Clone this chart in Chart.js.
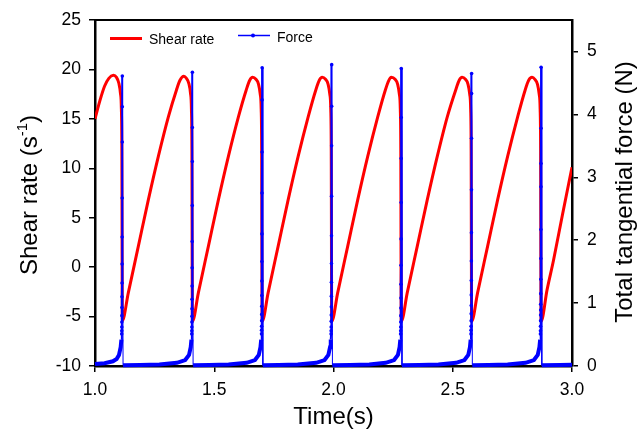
<!DOCTYPE html>
<html>
<head>
<meta charset="utf-8">
<title>Shear rate and tangential force</title>
<script src="https://cdn.jsdelivr.net/npm/chart.js@4.4.0/dist/chart.umd.min.js"></script>
<style>
    html, body { margin: 0; padding: 0; background: #fff; }
    #wrap { width: 639px; height: 432px; }
</style>
</head>
<body>
<div id="wrap"><canvas id="chart"></canvas></div>
<script>
"use strict";

// shear rate [time (s), shear rate (1/s)]
const shearPoints = [
    [1.000, 15.0], [1.020, 16.8], [1.040, 18.3], [1.058, 19.1], [1.077, 19.4], [1.090, 19.2], [1.100, 18.6],
    [1.1066, 17.6], [1.1106, 16.0], [1.1126, 12.0], [1.1146, -5.4],
    [1.1396, -2.6], [1.1816, 2.1], [1.2236, 6.8], [1.2656, 11.2], [1.3076, 15.2], [1.3413, 17.9], [1.3563, 18.9],
    [1.3723, 19.3], [1.3833, 19.1], [1.3933, 18.6], [1.4003, 17.6], [1.4043, 16.0], [1.4063, 12.0], [1.4083, -5.5],
    [1.4333, -2.6], [1.4753, 2.1], [1.5173, 6.8], [1.5593, 11.2], [1.6013, 15.2], [1.6338, 17.9], [1.6488, 18.9],
    [1.6608, 19.2], [1.6748, 19.0], [1.6858, 18.5], [1.6928, 17.5], [1.6968, 16.0], [1.6988, 12.0], [1.7008, -5.5],
    [1.7258, -2.6], [1.7678, 2.1], [1.8098, 6.8], [1.8518, 11.2], [1.8938, 15.2], [1.9255, 17.9], [1.9405, 18.9],
    [1.9525, 19.2], [1.9665, 19.0], [1.9775, 18.5], [1.9845, 17.5], [1.9885, 16.0], [1.9905, 12.0], [1.9925, -5.5],
    [2.0175, -2.6], [2.0595, 2.1], [2.1015, 6.8], [2.1435, 11.2], [2.1855, 15.2], [2.2171, 17.9], [2.2321, 18.9],
    [2.2421, 19.2], [2.2581, 19.0], [2.2691, 18.5], [2.2761, 17.5], [2.2801, 16.0], [2.2821, 12.0], [2.2841, -5.5],
    [2.3091, -2.6], [2.3511, 2.1], [2.3931, 6.8], [2.4351, 11.2], [2.4771, 15.2], [2.5121, 17.9], [2.5271, 18.9],
    [2.5391, 19.2], [2.5531, 19.0], [2.5641, 18.5], [2.5711, 17.5], [2.5751, 16.0], [2.5771, 12.0], [2.5791, -5.5],
    [2.6041, -2.6], [2.6461, 2.1], [2.6881, 6.8], [2.7301, 11.2], [2.7721, 15.2], [2.8034, 17.9], [2.8184, 18.9],
    [2.8324, 19.2], [2.8444, 19.0], [2.8554, 18.5], [2.8624, 17.5], [2.8664, 16.0], [2.8684, 12.0], [2.8704, -5.5],
    [2.8954, -2.3], [2.9225, 0.7], [2.9600, 5.3], [3.000, 10.1]
];

// total tangential force [time (s), force (N)]
const forcePoints = [
    [1.000, 0.03], [1.040, 0.045], [1.075, 0.075], [1.0906, 0.11], [1.1006, 0.175], [1.1076, 0.30], [1.1106, 0.42],
    [1.1120, 0.51], [1.1122, 0.56], [1.1124, 0.62], [1.1126, 0.70], [1.1128, 0.80], [1.1130, 0.93], [1.1132, 1.10],
    [1.1134, 1.32], [1.1136, 1.62], [1.1138, 2.05], [1.1140, 2.67], [1.1142, 3.56], [1.1144, 4.12], [1.1146, 4.61],
    [1.1176, 0.01],
    [1.190, 0.015], [1.270, 0.025], [1.3433, 0.05], [1.3783, 0.095], [1.3943, 0.175], [1.4013, 0.30], [1.4043, 0.42],
    [1.4057, 0.51], [1.4059, 0.56], [1.4061, 0.62], [1.4063, 0.70], [1.4065, 0.79], [1.4067, 0.91], [1.4069, 1.06],
    [1.4071, 1.27], [1.4073, 1.56], [1.4075, 1.98], [1.4077, 2.55], [1.4079, 3.25], [1.4081, 3.79], [1.4083, 4.67],
    [1.4113, 0.01],
    [1.480, 0.015], [1.560, 0.025], [1.6358, 0.05], [1.6708, 0.095], [1.6868, 0.175], [1.6938, 0.30], [1.6968, 0.42],
    [1.6982, 0.51], [1.6984, 0.57], [1.6986, 0.63], [1.6988, 0.72], [1.6990, 0.82], [1.6992, 0.95], [1.6994, 1.12],
    [1.6996, 1.35], [1.6998, 1.66], [1.7000, 2.10], [1.7002, 2.75], [1.7004, 3.40], [1.7006, 4.23], [1.7008, 4.74],
    [1.7038, 0.01],
    [1.770, 0.015], [1.850, 0.025], [1.9275, 0.05], [1.9625, 0.095], [1.9785, 0.175], [1.9855, 0.30], [1.9885, 0.42],
    [1.9899, 0.51], [1.9901, 0.56], [1.9903, 0.62], [1.9905, 0.71], [1.9907, 0.81], [1.9909, 0.94], [1.9911, 1.11],
    [1.9913, 1.33], [1.9915, 1.63], [1.9917, 2.07], [1.9919, 2.70], [1.9921, 3.50], [1.9923, 4.13], [1.9925, 4.79],
    [1.9955, 0.01],
    [2.070, 0.015], [2.150, 0.025], [2.2191, 0.05], [2.2541, 0.095], [2.2701, 0.175], [2.2771, 0.30], [2.2801, 0.42],
    [2.2815, 0.51], [2.2817, 0.56], [2.2819, 0.62], [2.2821, 0.70], [2.2823, 0.80], [2.2825, 0.92], [2.2827, 1.08],
    [2.2829, 1.30], [2.2831, 1.60], [2.2833, 2.02], [2.2835, 2.60], [2.2837, 3.30], [2.2839, 3.95], [2.2841, 4.73],
    [2.2871, 0.01],
    [2.360, 0.015], [2.440, 0.025], [2.5141, 0.05], [2.5491, 0.095], [2.5651, 0.175], [2.5721, 0.30], [2.5751, 0.42],
    [2.5765, 0.51], [2.5767, 0.57], [2.5769, 0.63], [2.5771, 0.72], [2.5773, 0.83], [2.5775, 0.96], [2.5777, 1.13],
    [2.5779, 1.36], [2.5781, 1.67], [2.5783, 2.12], [2.5785, 2.80], [2.5787, 3.62], [2.5789, 4.33], [2.5791, 4.65],
    [2.5821, 0.01],
    [2.650, 0.015], [2.730, 0.025], [2.8054, 0.05], [2.8404, 0.095], [2.8564, 0.175], [2.8634, 0.30], [2.8664, 0.42],
    [2.8676, 0.51], [2.8678, 0.56], [2.8680, 0.63], [2.8682, 0.72], [2.8684, 0.81], [2.8686, 0.89], [2.8688, 0.98],
    [2.8690, 1.15], [2.8692, 1.38], [2.8694, 1.71], [2.8696, 2.17], [2.8698, 2.85], [2.8700, 3.22], [2.8702, 3.78],
    [2.8704, 4.75],
    [2.8734, 0.01],
    [2.950, 0.015], [3.000, 0.02]
];

const timeTicks = [1.0, 1.5, 2.0, 2.5, 3.0];
const shearTicks = [-10, -5, 0, 5, 10, 15, 20, 25];
const forceTicks = [0, 1, 2, 3, 4, 5];

const FONT = '"Liberation Sans", Arial, sans-serif';

document.addEventListener('DOMContentLoaded', init);

function init() {
    const ctx = document.getElementById('chart').getContext('2d');

    // eigene Legende oben links im Plotbereich
    const legendInside = {
        id: 'legendInside',
        afterDraw(chart) {
            const c = chart.ctx;
            const shear = chart.data.datasets[0];
            const force = chart.data.datasets[1];
            c.save();
            c.font = '14px ' + FONT;
            c.fillStyle = '#000';
            c.textBaseline = 'alphabetic';

            c.strokeStyle = shear.borderColor;
            c.lineWidth = 3;
            c.beginPath();
            c.moveTo(110, 38.5);
            c.lineTo(142, 38.5);
            c.stroke();
            c.fillText(shear.label, 149, 43.5);

            c.strokeStyle = force.borderColor;
            c.lineWidth = 1.5;
            c.beginPath();
            c.moveTo(238, 35.5);
            c.lineTo(270, 35.5);
            c.stroke();
            c.fillStyle = force.borderColor;
            c.beginPath();
            c.arc(253, 35.5, 2, 0, Math.PI * 2);
            c.fill();
            c.fillStyle = '#000';
            c.fillText(force.label, 277, 41.5);
            c.restore();
        }
    };

    // y-Achsentitel, von unten nach oben gelesen (links mit Hochzahl)
    const sideTitles = {
        id: 'sideTitles',
        afterDraw(chart) {
            const c = chart.ctx;
            const area = chart.chartArea;
            const mid = (area.top + area.bottom) / 2;
            drawVertical(c, 36.5, mid + 2, [
                {text: 'Shear rate (s', size: 24, rise: 0},
                {text: '-1', size: 15, rise: 10},
                {text: ')', size: 24, rise: 0}
            ]);
            drawVertical(c, 632, mid - 1, [
                {text: 'Total tangential force (N)', size: 24, rise: 0}
            ]);
            // Rahmenlinie oben
            c.save();
            c.strokeStyle = '#000';
            c.lineWidth = 2;
            c.beginPath();
            c.moveTo(area.left, area.top);
            c.lineTo(area.right, area.top);
            c.stroke();
            c.restore();
        }
    };

    new Chart(ctx, {
        type: 'line',
        data: {
            datasets: [
                {
                    label: 'Shear rate',
                    data: shearPoints.map(p => ({x: p[0], y: p[1]})),
                    yAxisID: 'y',
                    borderColor: '#ff0000',
                    borderWidth: 3,
                    pointRadius: 0,
                    cubicInterpolationMode: 'monotone',
                    order: 2
                },
                {
                    label: 'Force',
                    data: forcePoints.map(p => ({x: p[0], y: p[1]})),
                    yAxisID: 'y1',
                    borderColor: '#0000ff',
                    backgroundColor: '#0000ff',
                    borderWidth: 2,
                    tension: 0,
                    pointRadius: c => (c.raw && c.raw.y >= 0.5 ? 1.8 : 0),
                    pointBorderWidth: 0,
                    segment: {
                        // Abfall nach der Spitze dünn, Grundlinie dick
                        borderWidth: s => {
                            if (s.p1.parsed.y < s.p0.parsed.y) return 1;
                            return s.p1.parsed.y <= 0.5 ? 4 : 2;
                        }
                    },
                    clip: false,
                    order: 1
                }
            ]
        },
        options: {
            responsive: true,
            maintainAspectRatio: false,
            animation: false,
            layout: {padding: {top: 20, left: 0, right: 0, bottom: 0}},
            plugins: {
                legend: {display: false},
                tooltip: {enabled: false}
            },
            scales: {
                x: {
                    type: 'linear',
                    min: 1,
                    max: 3,
                    afterFit: s => { s.height = 66; },
                    afterBuildTicks: s => { s.ticks = timeTicks.map(v => ({value: v})); },
                    border: {display: true, color: '#000', width: 2.5},
                    grid: {drawOnChartArea: false, drawTicks: true, tickLength: 6, color: '#000', lineWidth: 1.5},
                    ticks: {
                        color: '#000',
                        font: {family: FONT, size: 17.5},
                        padding: 8,
                        maxRotation: 0,
                        callback: v => v.toFixed(1)
                    },
                    title: {
                        display: true,
                        text: 'Time(s)',
                        color: '#000',
                        font: {family: FONT, size: 24},
                        padding: {top: 0, bottom: 0}
                    }
                },
                y: {
                    position: 'left',
                    min: -10,
                    max: 25,
                    afterFit: s => { s.width = 95; },
                    afterBuildTicks: s => { s.ticks = shearTicks.map(v => ({value: v})); },
                    border: {display: true, color: '#000', width: 2.5},
                    grid: {drawOnChartArea: false, drawTicks: true, tickLength: 6, color: '#000', lineWidth: 1.5},
                    ticks: {
                        color: '#000',
                        font: {family: FONT, size: 17.5},
                        padding: 8
                    }
                },
                y1: {
                    position: 'right',
                    min: 0,
                    max: 5.5,
                    afterFit: s => { s.width = 67; },
                    afterBuildTicks: s => { s.ticks = forceTicks.map(v => ({value: v})); },
                    border: {display: true, color: '#000', width: 2.5},
                    grid: {drawOnChartArea: false, drawTicks: true, tickLength: 6, color: '#000', lineWidth: 1.5},
                    ticks: {
                        color: '#000',
                        font: {family: FONT, size: 17.5},
                        padding: 9
                    }
                }
            }
        },
        plugins: [legendInside, sideTitles]
    });
}

// Text um -90° gedreht zeichnen, zentriert um (x, yMid)
function drawVertical(c, x, yMid, parts) {
    c.save();
    c.fillStyle = '#000';
    c.textBaseline = 'alphabetic';
    let total = 0;
    parts.forEach(p => {
        c.font = p.size + 'px ' + FONT;
        p.w = c.measureText(p.text).width;
        total += p.w;
    });
    c.translate(x, yMid);
    c.rotate(-Math.PI / 2);
    let pos = -total / 2;
    parts.forEach(p => {
        c.font = p.size + 'px ' + FONT;
        c.fillText(p.text, pos, -p.rise);
        pos += p.w;
    });
    c.restore();
}
</script>
</body>
</html>
